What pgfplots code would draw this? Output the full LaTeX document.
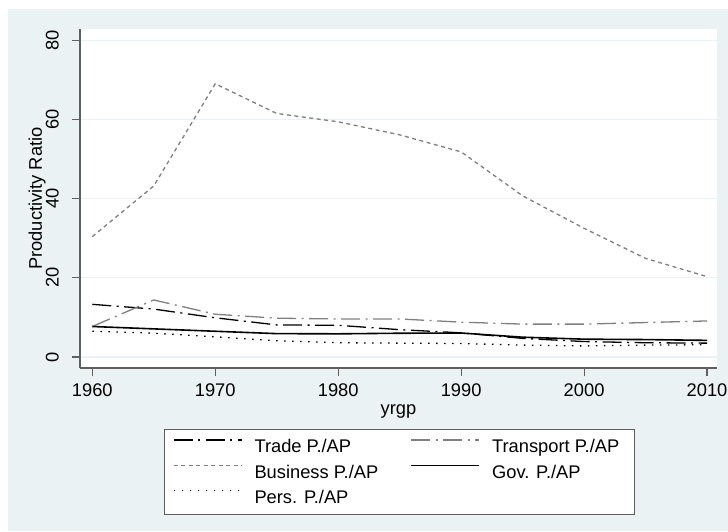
\documentclass[border=0pt]{standalone}
\usepackage{fontspec}
\setmainfont{Liberation Sans}
\usepackage{pgfplots}
\pgfplotsset{compat=1.18}

\definecolor{stbg}{RGB}{234,242,243}
\definecolor{axgray}{RGB}{95,95,95}
\definecolor{lgray}{RGB}{128,128,128}

\newcommand{\chartfont}{\fontsize{18.3}{22}\selectfont}

\begin{document}
\begin{tikzpicture}
% page and outer region
\fill[white] (0pt,0pt) rectangle (728pt,531pt);
\fill[stbg] (8pt,0pt) rectangle (728pt,522pt);
\begin{axis}[
    at={(80pt,163pt)}, anchor=south west,
    scale only axis, width=637pt, height=339pt,
    xmin=1959.0, xmax=2010.81,
    ymin=-2.78, ymax=82.83,
    axis x line*=bottom, axis y line*=left,
    axis line style={axgray, line width=1.2pt, -},
    axis background/.style={fill=white},
    xtick={1960,1970,...,2010},
    ytick={0,20,...,80},
    tick align=outside,
    major tick length=8pt,
    tick style={axgray, line width=1.1pt},
    ymajorgrids,
    major grid style={stbg, line width=1.4pt},
    /pgf/number format/assume math mode=true,
    /pgf/number format/1000 sep={},
    tick label style={font=\chartfont},
    xticklabel style={anchor=north, inner sep=0pt, yshift=-7.5pt},
    yticklabel style={xshift=-13pt, rotate=90, anchor=south, inner sep=0pt},
    every axis x label/.style={at={(axis description cs:0.5,-0.1357)}, anchor=base, font=\chartfont},
    every axis y label/.style={at={(axis description cs:-0.0600,0.5)}, rotate=90, anchor=base, font=\chartfont},
    xlabel={yrgp},
    ylabel={Productivity Ratio},
    legend columns=2,
    legend cell align=left,
    legend image code/.code={\draw[#1] (0pt,6.7pt) -- (68pt,6.7pt);},
    legend style={
        at={(axis description cs:0.1319,-0.1799)}, anchor=north west,
        draw=axgray, line width=1pt, fill=white,
        inner xsep=8.7pt, inner ysep=7pt,
        column sep=12pt, row sep=4.8pt,
        font=\chartfont,
        nodes={inner sep=0pt, text height=16.5pt, text depth=4pt},
    },
]
\addplot[black, line width=1.3pt, dash pattern=on 19pt off 5.5pt on 2pt off 5.5pt]
    coordinates {(1960,13.3) (1965,12.1) (1970,9.9) (1975,8.1) (1980,8.0) (1985,6.9)
                 (1990,6.1) (1995,4.7) (2000,3.9) (2005,3.6) (2010,3.5)};
\addlegendentry{\makebox[144pt][l]{Trade P./AP}}
\addplot[lgray, line width=1.3pt, dash pattern=on 19pt off 5.5pt on 2pt off 5.5pt]
    coordinates {(1960,7.7) (1965,14.4) (1970,10.8) (1975,9.8) (1980,9.6) (1985,9.6)
                 (1990,8.8) (1995,8.3) (2000,8.3) (2005,8.7) (2010,9.1)};
\addlegendentry{\makebox[134pt][l]{Transport P./AP}}
\addplot[lgray, line width=1.3pt, dash pattern=on 4pt off 3.5pt]
    coordinates {(1960,30.4) (1965,43.2) (1970,69.0) (1975,61.5) (1980,59.4) (1985,56.1)
                 (1990,51.8) (1995,40.7) (2000,32.5) (2005,24.9) (2010,20.3)};
\addlegendentry{\makebox[144pt][l]{Business P./AP}}
\addplot[black, line width=1.6pt]
    coordinates {(1960,7.7) (1965,7.1) (1970,6.5) (1975,5.9) (1980,5.85) (1985,6.0)
                 (1990,6.05) (1995,5.0) (2000,4.5) (2005,4.4) (2010,4.2)};
\addlegendentry{\makebox[134pt][l]{Gov. P./AP}}
\addplot[black, line width=1.3pt, dash pattern=on 1.5pt off 6.5pt]
    coordinates {(1960,6.5) (1965,6.0) (1970,5.1) (1975,4.1) (1980,3.6) (1985,3.5)
                 (1990,3.4) (1995,3.0) (2000,2.8) (2005,3.0) (2010,3.1)};
\addlegendentry{\makebox[144pt][l]{Pers. P./AP}}
\end{axis}
\end{tikzpicture}
\end{document}
